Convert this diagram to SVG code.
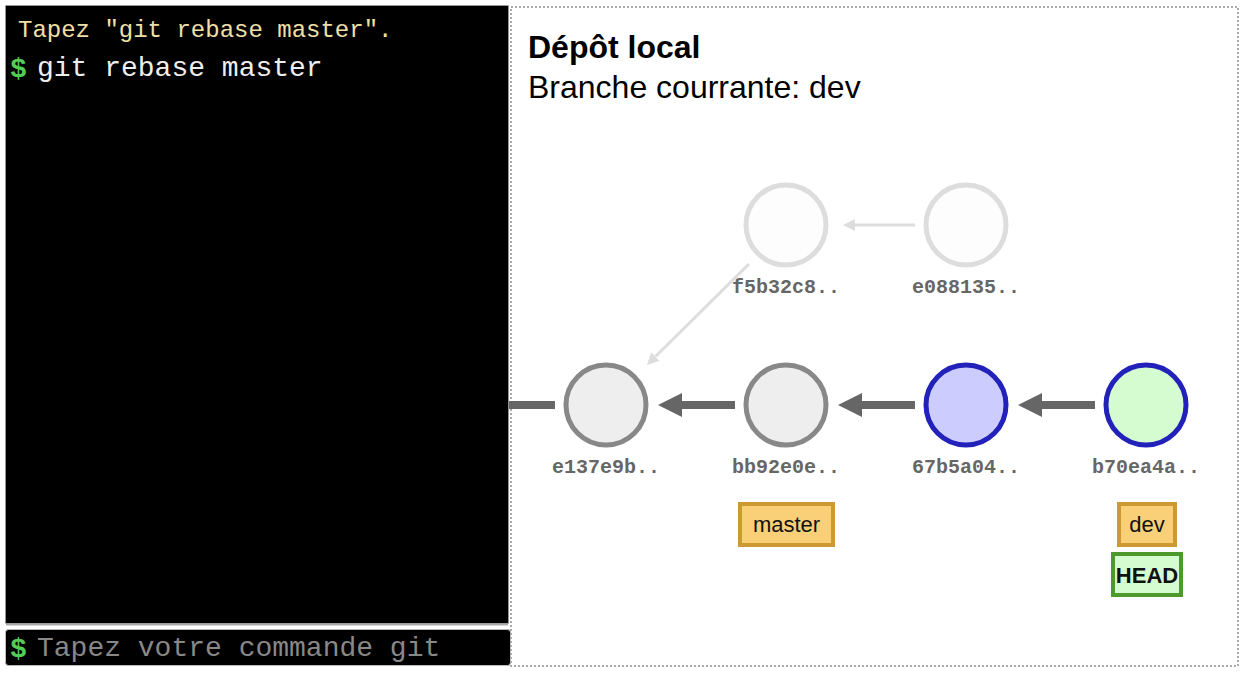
<svg xmlns="http://www.w3.org/2000/svg" width="1247" height="674" viewBox="0 0 1247 674">
<defs>
<style>
.hash{font-family:"Liberation Mono","Courier New",monospace;font-weight:bold;font-size:20px;fill:#666;text-anchor:middle}
.c{stroke-width:5}
.norm{fill:#eee;stroke:#888}
.ghost{fill:#fdfdfd;stroke:#ddd}
.blue{fill:#ccf;stroke:#2222bb}
.green{fill:#d5fbd0;stroke:#2222bb}
.edge{stroke:#666;stroke-width:8;fill:none}
.gedge{stroke:#ddd;stroke-width:3;fill:none}
.branch{fill:#f9cf78;stroke:#cc9933;stroke-width:4}
.lbl{font-family:"Liberation Sans",Arial,sans-serif;font-size:22px;fill:#111;text-anchor:middle}
.term{font-family:"Liberation Mono","Courier New",monospace}
.head{font-family:"Liberation Sans",Arial,sans-serif;font-size:32px;fill:#000}
</style>
<marker id="ah" markerWidth="3.2" markerHeight="3.2" refX="0" refY="1.5" orient="auto" markerUnits="strokeWidth">
<path d="M0,0 L3,1.5 L0,3 Z" fill="#666"/>
</marker>
<marker id="gah" markerWidth="5" markerHeight="5" refX="0" refY="2.5" orient="auto" markerUnits="strokeWidth">
<path d="M0,0.5 L4,2.5 L0,4.5 Z" fill="#ddd"/>
</marker>
</defs>
<rect width="1247" height="674" fill="#fff"/>
<g id="terminal">
<rect x="5.5" y="5.5" width="503" height="618" fill="#000" stroke="#aaa" stroke-width="1" stroke-dasharray="1 1"/>
<text class="term" x="18" y="37" font-size="24" fill="#f0e0a8">Tapez "git rebase master".</text>
<text class="term" x="10" y="77" font-size="28" font-weight="bold" fill="#5c5">$</text>
<text class="term" x="37" y="76" font-size="28" fill="#eee">git rebase master</text>
<line x1="6" y1="624.5" x2="508" y2="624.5" stroke="#aaa" stroke-width="2"/>
</g>
<g id="input">
<rect x="5.5" y="629.5" width="505" height="36" rx="3" fill="#000" stroke="#bbb" stroke-width="1"/>
<text class="term" x="10" y="657" font-size="28" font-weight="bold" fill="#5c5">$</text>
<text class="term" x="37" y="656" font-size="28" fill="#888">Tapez votre commande git</text>
</g>
<g id="panel">
<rect x="511" y="7" width="727" height="659" fill="none" stroke="#aaa" stroke-width="2" stroke-dasharray="2 2"/>
<text class="head" x="528" y="58" font-weight="bold">Dépôt local</text>
<text class="head" x="528" y="98">Branche courrante: dev</text>
</g>
<g id="connectors">
<line class="edge" x1="509" y1="405" x2="555" y2="405"/>
<line class="edge" x1="735" y1="405" x2="682" y2="405" marker-end="url(#ah)"/>
<line class="edge" x1="915" y1="405" x2="862" y2="405" marker-end="url(#ah)"/>
<line class="edge" x1="1095" y1="405" x2="1042" y2="405" marker-end="url(#ah)"/>
<line class="gedge" x1="915" y1="225" x2="855" y2="225" marker-end="url(#gah)"/>
<line class="gedge" x1="749" y1="264" x2="655.5" y2="356.5" marker-end="url(#gah)"/>
</g>
<g id="e137e9b"><circle class="c norm" cx="606" cy="405" r="40"/><text class="hash" x="606" y="473">e137e9b..</text></g>
<g id="bb92e0e"><circle class="c norm" cx="786" cy="405" r="40"/><text class="hash" x="786" y="473">bb92e0e..</text></g>
<g id="67b5a04"><circle class="c blue" cx="966" cy="405" r="40"/><text class="hash" x="966" y="473">67b5a04..</text></g>
<g id="b70ea4a"><circle class="c green" cx="1146" cy="405" r="40"/><text class="hash" x="1146" y="473">b70ea4a..</text></g>
<g id="f5b32c8"><circle class="c ghost" cx="786" cy="225" r="40"/><text class="hash" x="786" y="293">f5b32c8..</text></g>
<g id="e088135"><circle class="c ghost" cx="966" cy="225" r="40"/><text class="hash" x="966" y="293">e088135..</text></g>
<g id="master"><rect class="branch" x="740" y="504" width="93" height="41"/><text class="lbl" x="786.5" y="532">master</text></g>
<g id="dev"><rect class="branch" x="1119" y="504" width="56" height="41"/><text class="lbl" x="1147" y="532">dev</text></g>
<g id="HEAD"><rect x="1113" y="554" width="68" height="41" fill="#d5fbd0" stroke="#4b9a2b" stroke-width="4"/><text class="lbl" x="1147" y="583" font-weight="bold">HEAD</text></g>
</svg>
